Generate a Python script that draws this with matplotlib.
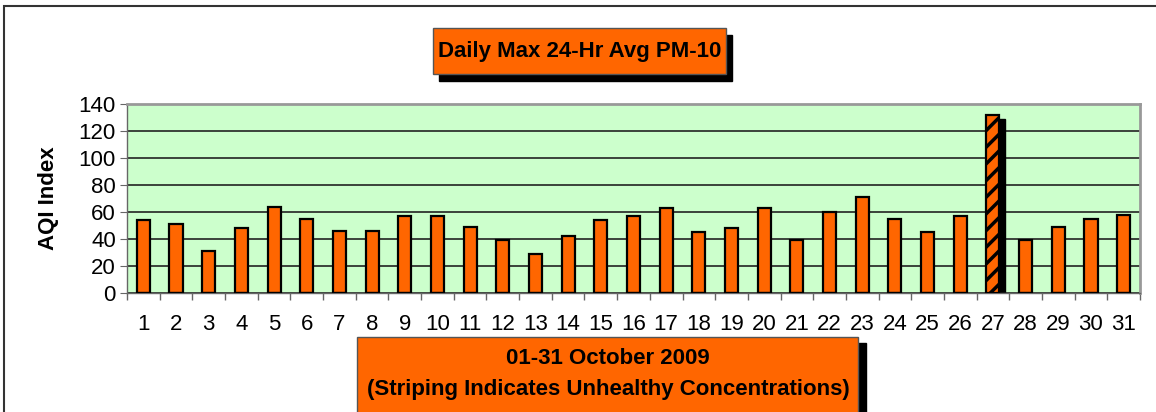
import numpy as np
import matplotlib
matplotlib.use("Agg")
import matplotlib.pyplot as plt
import matplotlib.transforms as mtransforms
from matplotlib.patches import Rectangle

plt.rcParams['font.family'] = ['Liberation Sans', 'DejaVu Sans']
plt.rcParams['hatch.linewidth'] = 2.5

# data
days = list(range(1, 32))
aqi = [54, 51, 31, 48, 64, 55, 46, 46, 57, 57, 49, 39, 29, 42, 54, 57,
       63, 45, 48, 63, 39, 60, 71, 55, 45, 57, 132, 39, 49, 55, 58]
unhealthy = [27]
title = "Daily Max 24-Hr Avg PM-10"
xlabel_lines = ["01-31 October 2009", "(Striping Indicates Unhealthy Concentrations)"]
ylabel = "AQI Index"
yticks = [0, 20, 40, 60, 80, 100, 120, 140]

orange = "#FF6600"
W, H = 1156, 412
fig = plt.figure(figsize=(W / 100, H / 100), dpi=100)


def fx(px):
    return px / W


def fy(py):
    return 1 - py / H


# outer chart frame
fig.patches.append(Rectangle((fx(4), fy(420)), fx(1170), fy(6) - fy(420),
                             transform=fig.transFigure, fill=False,
                             edgecolor="#333333", linewidth=1.5, clip_on=False))

ax = fig.add_axes([fx(127), fy(293), fx(1140) - fx(127), fy(104) - fy(293)])
ax.set_facecolor("#CCFFCC")

normal = [v if d not in unhealthy else 0 for d, v in zip(days, aqi)]
striped = [v if d in unhealthy else 0 for d, v in zip(days, aqi)]

# drop shadow behind the unhealthy bar
shadow_tr = ax.transData + mtransforms.ScaledTranslation(6 / 100, -4 / 100, fig.dpi_scale_trans)
ax.bar(days, striped, width=0.4, color="black", edgecolor="black",
       transform=shadow_tr, zorder=2)
ax.bar(days, normal, width=0.4, color=orange, edgecolor="black",
       linewidth=1.6, zorder=3)
ax.bar(days, striped, width=0.4, color=orange, edgecolor="black",
       linewidth=1.6, hatch="//", zorder=3)

ax.set_xlim(0.5, 31.5)
ax.set_ylim(0, 140)
ax.set_yticks(yticks)
ax.yaxis.grid(True, color="#222222", linewidth=1.2)
ax.set_axisbelow(True)

ax.set_xticks(days)
ax.set_xticks(np.arange(0.5, 32, 1), minor=True)
ax.tick_params(axis="x", which="major", length=0, labelsize=16, pad=15)
ax.tick_params(axis="x", which="minor", length=5, color="#666666", width=1)
ax.tick_params(axis="y", length=5, color="#666666", labelsize=16, pad=3)

for s in ["left", "bottom"]:
    ax.spines[s].set_color("#666666")
    ax.spines[s].set_linewidth(1)
for s in ["top", "right"]:
    ax.spines[s].set_color("#999999")
    ax.spines[s].set_linewidth(2)

ax.set_ylabel(ylabel, fontsize=16, fontweight="bold", labelpad=14)

# title box with shadow
fig.patches.append(Rectangle((fx(439), fy(81)), fx(726) - fx(433), fy(28) - fy(74),
                             transform=fig.transFigure, color="black", zorder=1))
fig.patches.append(Rectangle((fx(433), fy(74)), fx(726) - fx(433), fy(28) - fy(74),
                             transform=fig.transFigure, facecolor=orange,
                             edgecolor="#555555", linewidth=1, zorder=2))
fig.text(fx(580), fy(51), title, ha="center", va="center", fontsize=16,
         fontweight="bold", zorder=3)

# x label box with shadow
fig.patches.append(Rectangle((fx(365), fy(420)), fx(858) - fx(357), fy(343) - fy(420),
                             transform=fig.transFigure, color="black", zorder=1))
fig.patches.append(Rectangle((fx(357), fy(420)), fx(858) - fx(357), fy(337) - fy(420),
                             transform=fig.transFigure, facecolor=orange,
                             edgecolor="#555555", linewidth=1, zorder=2))
fig.text(fx(608), fy(358), xlabel_lines[0], ha="center", va="center",
         fontsize=16, fontweight="bold", zorder=3)
fig.text(fx(608), fy(390), xlabel_lines[1], ha="center", va="center",
         fontsize=16, fontweight="bold", zorder=3)

fig.savefig("out.png", dpi=100)
